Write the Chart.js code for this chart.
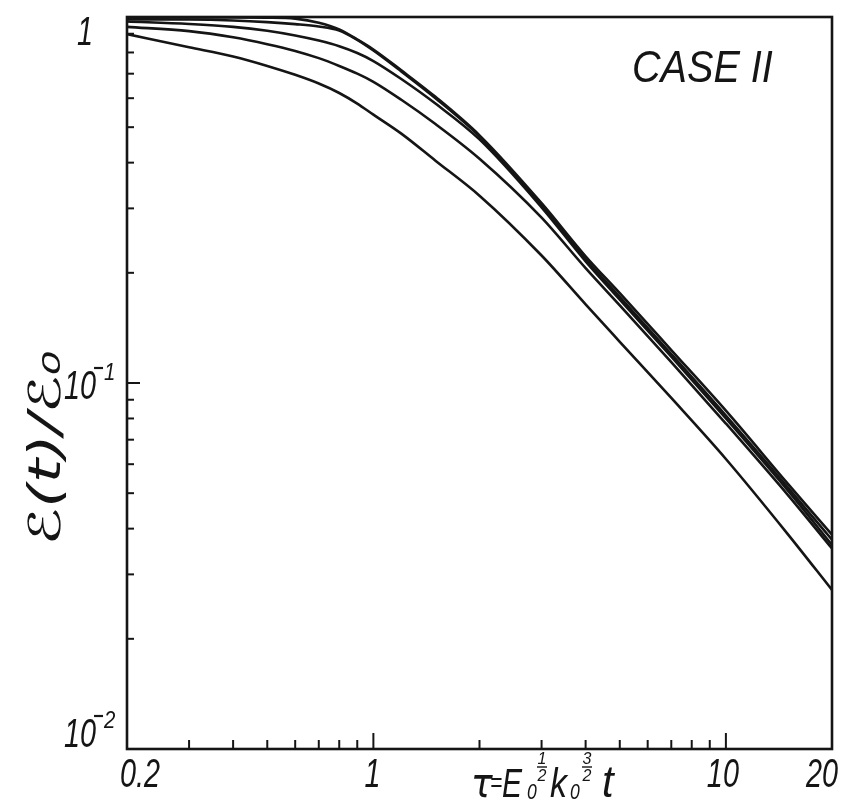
<!DOCTYPE html>
<html>
<head>
<meta charset="utf-8">
<script src="https://cdn.jsdelivr.net/npm/chart.js@4.4.0/dist/chart.umd.min.js"></script>
<style>
html,body{margin:0;padding:0;background:#fff;}
#wrap{width:847px;height:800px;position:relative;}
</style>
</head>
<body>
<div id="wrap"><canvas id="c"></canvas></div>
<script>
// ---- data (log-log) ----
const tau    = [0.2, 0.3, 0.4, 0.5, 0.6, 0.7, 0.8, 0.9, 1.0, 1.2, 1.5, 2, 3, 4, 5, 7, 10, 15, 20];
const curveA = [0.997,0.997,0.997,0.996,0.99,0.965,0.925,0.868,0.815,0.715,0.605,0.475,0.31,0.222,0.176,0.123,0.084,0.053,0.0385];
const curveB = [0.985,0.984,0.978,0.968,0.956,0.942,0.918,0.866,0.81,0.71,0.6,0.472,0.306,0.218,0.172,0.12,0.0815,0.0518,0.0373];
const curveC = [0.972,0.957,0.94,0.917,0.89,0.862,0.832,0.797,0.758,0.677,0.58,0.463,0.302,0.215,0.169,0.118,0.080,0.0508,0.0361];
const curveD = [0.94,0.915,0.88,0.843,0.808,0.772,0.735,0.70,0.665,0.594,0.51,0.41,0.283,0.206,0.163,0.114,0.0775,0.0494,0.0353];
const curveE = [0.898,0.827,0.78,0.735,0.695,0.658,0.62,0.58,0.541,0.48,0.405,0.325,0.223,0.164,0.1296,0.091,0.062,0.0386,0.0272];

const xTickValues = [0.2, 1, 10, 20];
const xTickLabels = ['0.2', '1', '10', '20'];
const yTickValues = [1, 0.1, 0.01];
const yTickBases  = ['1', '10', '10'];
const yTickExps   = ['', '-1', '-2'];
const caseLabel   = 'CASE II';
const yTitle      = 'ℰ(t)/ℰ₀';

const INK = '#151515';
const FAM = '"Liberation Sans","DejaVu Sans",sans-serif';

function txt(ctx, s, x, y, size, align, sx, fam) {
  ctx.save();
  ctx.font = 'italic ' + size + 'px ' + (fam || FAM);
  ctx.textAlign = align || 'left';
  ctx.textBaseline = 'alphabetic';
  ctx.translate(x, y);
  ctx.scale(sx || 1, 1);
  ctx.fillText(s, 0, 0);
  const w = ctx.measureText(s).width * (sx || 1);
  ctx.restore();
  return w;
}

function frac(ctx, num, den, cx, yTop) {
  ctx.save();
  ctx.font = 'italic 16px ' + FAM;
  ctx.textAlign = 'center';
  ctx.textBaseline = 'alphabetic';
  ctx.fillText(num, cx, yTop + 12);
  ctx.lineWidth = 1.4;
  ctx.beginPath(); ctx.moveTo(cx - 5, yTop + 15); ctx.lineTo(cx + 5, yTop + 15); ctx.stroke();
  ctx.fillText(den, cx, yTop + 29);
  ctx.restore();
}

const framePlugin = {
  id: 'frame',
  beforeDraw(chart) {
    const ctx = chart.ctx;
    ctx.save(); ctx.fillStyle = '#fff'; ctx.fillRect(0, 0, chart.width, chart.height); ctx.restore();
  },
  afterDatasetsDraw(chart) {
    const { ctx, chartArea: a, scales: { x, y } } = chart;
    ctx.save();
    ctx.strokeStyle = INK; ctx.fillStyle = INK;
    ctx.lineWidth = 2.6;
    ctx.strokeRect(a.left, a.top, a.right - a.left, a.bottom - a.top);

    // inward ticks, bottom axis
    ctx.lineWidth = 2;
    [0.1, 1, 10].forEach(dec => {
      for (let m = 1; m <= 9; m++) {
        const v = m * dec;
        if (v <= 0.2001 || v >= 19.999) continue;
        const len = m === 1 ? 16 : 9;
        const px = x.getPixelForValue(v);
        ctx.beginPath(); ctx.moveTo(px, a.bottom); ctx.lineTo(px, a.bottom - len); ctx.stroke();
      }
    });
    // inward ticks, left axis
    [0.01, 0.1].forEach(dec => {
      for (let m = 1; m <= 9; m++) {
        const v = m * dec;
        if (v <= 0.01001 || v >= 0.9999) continue;
        const len = m === 1 ? 13 : 7;
        const py = y.getPixelForValue(v);
        ctx.beginPath(); ctx.moveTo(a.left, py); ctx.lineTo(a.left + len, py); ctx.stroke();
      }
    });

    // x tick labels
    const xOff = [13, -1, -3, -10];
    xTickValues.forEach((v, i) => {
      txt(ctx, xTickLabels[i], x.getPixelForValue(v) + xOff[i], 787, 40, 'center', 0.72);
    });

    // y tick labels: base "10" plus raised exponent with an explicit minus stroke
    yTickValues.forEach((v, i) => {
      const py = y.getPixelForValue(v);
      if (yTickExps[i] === '') {
        txt(ctx, yTickBases[i], 85, py + 28, 40, 'center', 0.72);
      } else {
        const base = i === 1 ? py + 16 : py - 2;
        const w = txt(ctx, yTickBases[i], 64, base, 40, 'left', 0.72);
        const ex = 64 + w;
        ctx.save();
        ctx.lineWidth = 2.2;
        ctx.beginPath(); ctx.moveTo(ex - 2, base - 31); ctx.lineTo(ex + 7, base - 31); ctx.stroke();
        ctx.restore();
        txt(ctx, yTickExps[i].replace('-', ''), ex + 8, base - 19, 24, 'left', 0.85);
      }
    });

    // case label
    txt(ctx, caseLabel, 632, 82, 44, 'left', 0.9);

    // y title (rotated)
    ctx.save();
    ctx.translate(60, 448);
    ctx.rotate(-Math.PI / 2);
    ctx.font = 'italic 44px "DejaVu Sans",sans-serif';
    const tw = ctx.measureText(yTitle).width;
    ctx.scale(195 / tw, 1);
    ctx.textAlign = 'center';
    ctx.textBaseline = 'alphabetic';
    ctx.fillText(yTitle, 0, 0);
    ctx.restore();

    // x title: tau = E0^(1/2) k0^(3/2) t
    const bl = 797;
    txt(ctx, 'τ', 471, bl, 40, 'left', 0.9, '"DejaVu Sans",sans-serif');
    txt(ctx, '=', 490, bl - 5, 28, 'left', 0.75);
    txt(ctx, 'E', 502, bl, 40, 'left', 0.75);
    txt(ctx, '0', 527, bl + 2, 22, 'left', 0.8);
    frac(ctx, '1', '2', 542, 752);
    txt(ctx, 'k', 550, bl, 40, 'left', 0.85);
    txt(ctx, '0', 570, bl + 2, 22, 'left', 0.8);
    frac(ctx, '3', '2', 587, 752);
    txt(ctx, 't', 602, bl, 44, 'left', 0.95);

    ctx.restore();
  }
};

const names = ['A', 'B', 'C', 'D', 'E'];
const series = [curveA, curveB, curveC, curveD, curveE];
const datasets = series.map((arr, i) => ({
  label: names[i],
  data: tau.map((t, j) => ({ x: t, y: arr[j] })),
  borderColor: INK,
  borderWidth: 2.6,
  pointRadius: 0,
  fill: false,
  cubicInterpolationMode: 'monotone'
}));

new Chart(document.getElementById('c'), {
  type: 'line',
  data: { datasets },
  options: {
    responsive: true,
    maintainAspectRatio: false,
    animation: false,
    layout: { padding: { left: 127, right: 15, top: 17, bottom: 51 } },
    plugins: { legend: { display: false }, tooltip: { enabled: false } },
    scales: {
      x: {
        type: 'logarithmic', min: 0.2, max: 20,
        ticks: { display: false }, grid: { display: false, drawTicks: false },
        border: { display: false },
        afterFit(s) { s.height = 0; }
      },
      y: {
        type: 'logarithmic', min: 0.01, max: 1,
        ticks: { display: false }, grid: { display: false, drawTicks: false },
        border: { display: false },
        afterFit(s) { s.width = 0; }
      }
    }
  },
  plugins: [framePlugin]
});
</script>
</body>
</html>
